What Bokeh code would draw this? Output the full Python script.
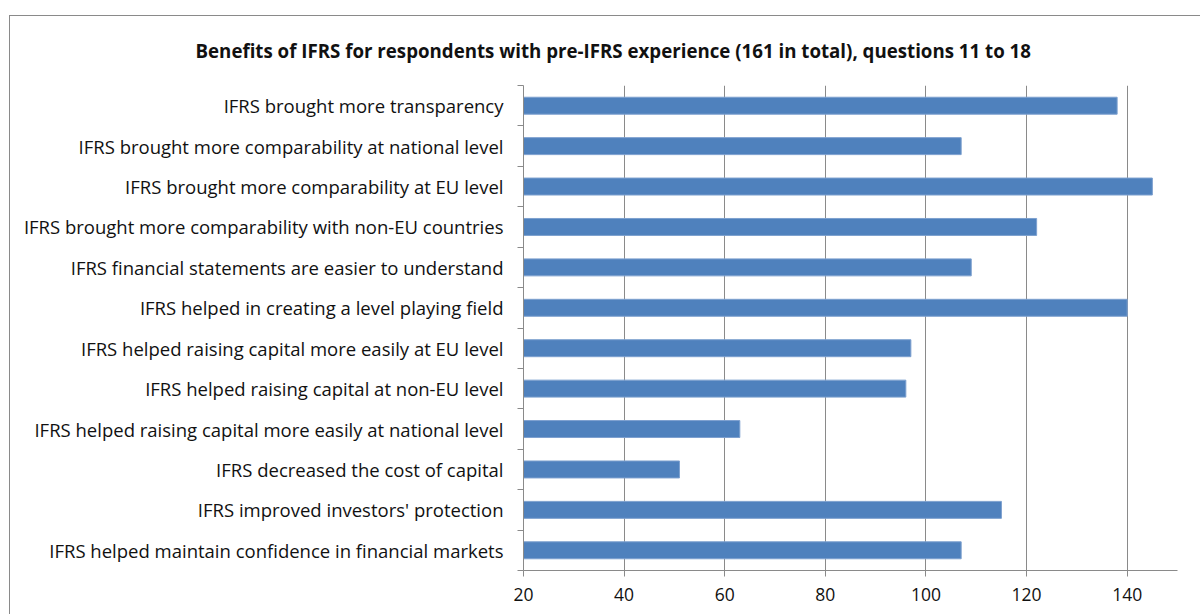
from bokeh.plotting import figure
from bokeh.models import FixedTicker, Range1d, ColumnDataSource
from bokeh.embed import file_html
from bokeh.resources import INLINE

categories = [
    "IFRS brought more transparency",
    "IFRS brought more comparability at national level",
    "IFRS brought more comparability at EU level",
    "IFRS brought more comparability with non-EU countries",
    "IFRS financial statements are easier to understand",
    "IFRS helped in creating a level playing field",
    "IFRS helped raising capital more easily at EU level",
    "IFRS helped raising capital at non-EU level",
    "IFRS helped raising capital more easily at national level",
    "IFRS decreased the cost of capital",
    "IFRS improved investors' protection",
    "IFRS helped maintain confidence in financial markets",
]
values = [138, 107, 145, 122, 109, 140, 97, 96, 63, 51, 115, 107]
x_ticks = [20, 40, 60, 80, 100, 120, 140]
title_text = "Benefits of IFRS for respondents with pre-IFRS experience (161 in total), questions 11 to 18"

n = len(categories)
ypos = [n - 1 - i for i in range(n)]
src = ColumnDataSource(dict(y=ypos, v=values, cat=categories))

FONT = "Open Sans"
W, H = 1191, 599

p = figure(width=W, height=H, output_backend="svg", toolbar_location=None,
           x_range=Range1d(20, 150), y_range=Range1d(-0.5, n - 0.5),
           min_border_left=513, min_border_right=24, min_border_top=69, min_border_bottom=45)
p.margin = (15, 0, 0, 9)
p.styles = {"border-top": "1px solid #8a8a8a", "border-left": "1px solid #8a8a8a"}
p.outline_line_color = None
p.background_fill_color = "white"
p.border_fill_color = "white"

p.hbar(y="y", left=20, right="v", height=0.42, source=src,
       fill_color="#4f81bd", line_color="#7da0cf", line_width=1)

# title
p.title.text = title_text
p.title.align = "left"
p.title.vertical_align = "top"
p.title.offset = -328
p.title.standoff = 42
p.title.text_font = FONT
p.title.text_font_style = "bold"
p.title.text_font_size = "18.7px"
p.title.text_color = "#111111"

# x axis
p.xaxis.ticker = FixedTicker(ticks=x_ticks)
p.xaxis.axis_line_color = "#8a8a8a"
p.xaxis.major_tick_line_color = "#8a8a8a"
p.xaxis.major_tick_out = 6
p.xaxis.major_tick_in = 0
p.xaxis.minor_tick_line_color = None
p.xaxis.major_label_text_font = FONT
p.xaxis.major_label_text_font_size = "17.5px"
p.xaxis.major_label_text_color = "#111111"
p.xaxis.major_label_standoff = 11

# y axis
p.yaxis.ticker = FixedTicker(ticks=ypos, minor_ticks=[k - 0.5 for k in range(n + 1)])
p.yaxis.major_label_overrides = {y: c for y, c in zip(ypos, categories)}
p.yaxis.axis_line_color = "#8a8a8a"
p.yaxis.major_tick_line_color = None
p.yaxis.minor_tick_line_color = "#8a8a8a"
p.yaxis.minor_tick_out = 6
p.yaxis.minor_tick_in = 0
p.yaxis.major_label_text_font = FONT
p.yaxis.major_label_text_font_size = "18.5px"
p.yaxis.major_label_text_color = "#111111"
p.yaxis.major_label_standoff = 14

p.xgrid.grid_line_color = "#8a8a8a"
p.xgrid.grid_line_width = 1
p.ygrid.grid_line_color = None

open("out.html", "w").write(file_html(p, INLINE))
